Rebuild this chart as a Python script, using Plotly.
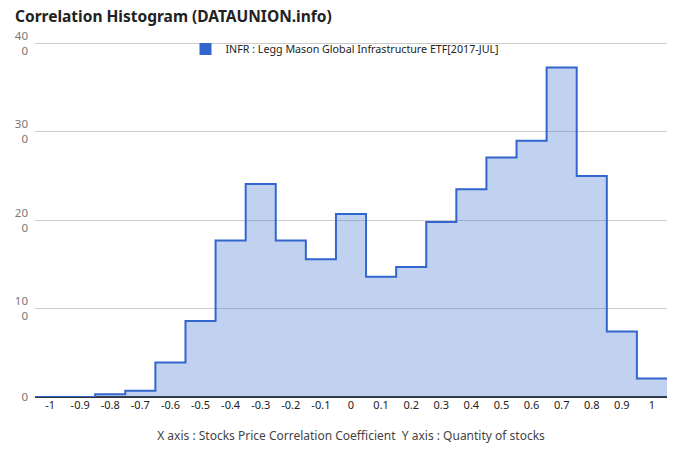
import plotly.graph_objects as go

# Data
bin_centers = [-1.0, -0.9, -0.8, -0.7, -0.6, -0.5, -0.4, -0.3, -0.2, -0.1, 0.0,
               0.1, 0.2, 0.3, 0.4, 0.5, 0.6, 0.7, 0.8, 0.9, 1.0]
counts = [0, 0, 3, 7, 39, 86, 177, 241, 177, 156, 207,
          136, 147, 198, 235, 271, 290, 373, 250, 74, 21]
x_tick_vals = [-1, -0.9, -0.8, -0.7, -0.6, -0.5, -0.4, -0.3, -0.2, -0.1, 0,
               0.1, 0.2, 0.3, 0.4, 0.5, 0.6, 0.7, 0.8, 0.9, 1]
x_tick_text = ["-1", "-0.9", "-0.8", "-0.7", "-0.6", "-0.5", "-0.4", "-0.3", "-0.2", "-0.1", "0",
               "0.1", "0.2", "0.3", "0.4", "0.5", "0.6", "0.7", "0.8", "0.9", "1"]
y_tick_vals = [0, 100, 200, 300, 400]
y_tick_text = ["0", "10<br>0", "20<br>0", "30<br>0", "40<br>0"]
series_name = "INFR : Legg Mason Global Infrastructure ETF[2017-JUL]"

half = 0.05
edges = [c - half for c in bin_centers] + [bin_centers[-1] + half]
step_y = counts + [counts[-1]]

fig = go.Figure()
fig.add_trace(go.Scatter(
    x=edges, y=step_y, mode="lines", line_shape="hv",
    line=dict(color="#3366cc", width=2),
    fill="tozeroy", fillcolor="rgba(51,102,204,0.30)",
    showlegend=False, hoverinfo="skip"))
fig.add_trace(go.Scatter(
    x=[None], y=[None], mode="markers", name=series_name,
    marker=dict(symbol="square", size=12, color="#3366cc"),
    showlegend=True))

fig.update_layout(
    width=680, height=462,
    margin=dict(l=35, r=13, t=40, b=65, autoexpand=False),
    paper_bgcolor="white", plot_bgcolor="white",
    font=dict(family="Noto Sans", size=11, color="#222"),
    title=dict(text="<b>Correlation Histogram (DATAUNION.info)</b>",
               x=15/680, xanchor="left", y=1-17/462, yanchor="middle",
               font=dict(family="Noto Sans", size=15.5, color="#222")),
    legend=dict(orientation="h", x=0.5 - 6/632, xanchor="center", y=1-9/357, yanchor="middle",
                bgcolor="rgba(0,0,0,0)", font=dict(size=10.7, color="#222"),
                itemwidth=30),
    xaxis=dict(range=[-1.05, 1.05], tickvals=x_tick_vals, ticktext=x_tick_text,
               showgrid=False, zeroline=False, showline=False, ticks="",
               automargin=False,
               tickfont=dict(size=11, color="#222"),
               title=dict(text="X axis : Stocks Price Correlation Coefficient  Y axis : Quantity of stocks",
                          font=dict(size=12, color="#444"), standoff=20)),
    yaxis=dict(range=[0, 404], tickvals=y_tick_vals, ticktext=y_tick_text,
               showgrid=True, gridcolor="#cccccc", gridwidth=1,
               zeroline=True, zerolinecolor="#333", zerolinewidth=1.5,
               automargin=False,
               ticks="", tickfont=dict(size=11.5, color="#777777"), ticklabelstandoff=6),
)

fig.write_html("out.html", config={"displayModeBar": False},
               post_script="document.body.style.margin='0px';")
